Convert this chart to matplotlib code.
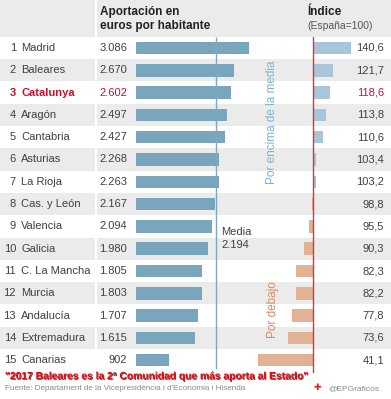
import matplotlib
matplotlib.use("Agg")
import matplotlib.pyplot as plt
import matplotlib.patheffects as pe

plt.rcParams['font.family'] = ['Liberation Sans', 'DejaVu Sans']

# data
regiones = ["Madrid", "Baleares", "Catalunya", "Aragón", "Cantabria", "Asturias",
            "La Rioja", "Cas. y León", "Valencia", "Galicia", "C. La Mancha",
            "Murcia", "Andalucía", "Extremadura", "Canarias"]
aportacion = [3086, 2670, 2602, 2497, 2427, 2268, 2263, 2167, 2094, 1980,
              1805, 1803, 1707, 1615, 902]
indice = [140.6, 121.7, 118.6, 113.8, 110.6, 103.4, 103.2, 98.8, 95.5, 90.3,
          82.3, 82.2, 77.8, 73.6, 41.1]
media = 2194
destacada = "Catalunya"

W, H = 391, 399
TXT = "#404040"
GRIS = "#ebebeb"
ROJO = "#c8102e"
FS = 8

fig = plt.figure(figsize=(W / 100, H / 100), dpi=100)

# background / table axes: x in pixels, y in row index
n = len(regiones)
pitch = 22.3
top_i = 1 - 48 / pitch
bot_i = 1 + (H - 48) / pitch
ax = fig.add_axes([0, 0, 1, 1])
ax.set_xlim(0, W)
ax.set_ylim(bot_i, top_i)
ax.axis("off")
ax.axhspan(top_i, 0.5, color=GRIS, lw=0)
for i in range(1, n + 1):
    if i % 2 == 0:
        ax.axhspan(i - 0.5, i + 0.5, color=GRIS, lw=0)
ax.vlines(96, top_i, n + 0.5, color="white", lw=1.5)

ax.text(100, 12 / pitch + top_i, "Aportación en", fontsize=8.5, weight="bold",
        color="#222222", va="center")
ax.text(100, 26 / pitch + top_i, "euros por habitante", fontsize=8.5, weight="bold",
        color="#222222", va="center")
ax.text(307, 12 / pitch + top_i, "Índice", fontsize=8.5, weight="bold",
        color="#222222", va="center")
ax.text(307, 26 / pitch + top_i, "(España=100)", fontsize=7.5,
        color="#555555", va="center")

for k, (reg, ap, ix) in enumerate(zip(regiones, aportacion, indice)):
    y = k + 1
    hl = reg == destacada
    col = ROJO if hl else TXT
    w = "bold" if hl else "normal"
    ax.text(16, y, str(y), ha="right", va="center", fontsize=FS, color=col, weight=w)
    ax.text(21, y, reg, ha="left", va="center", fontsize=FS, color=col, weight=w)
    ax.text(127, y, f"{ap:,}".replace(",", "."), ha="right", va="center",
            fontsize=FS, color=col)
    ax.text(384, y, f"{ix:.1f}".replace(".", ","), ha="right", va="center",
            fontsize=FS, color=col)

# aportacion bars
px_per_eur = 112.7 / 3086
rows_bottom = (H - (n + 0.5 - top_i) * pitch) / H
rows_h = n * pitch / H
ax1 = fig.add_axes([136 / W, rows_bottom, 164 / W, rows_h])
ax1.set_xlim(0, 164 / px_per_eur)
ax1.set_ylim(n + 0.5, 0.5)
ax1.axis("off")
ax1.barh(range(1, n + 1), aportacion, height=0.56, color="#79a5bd", lw=0)
ax1.vlines(media, 0.5, n + 0.4, color="#7ea8c2", lw=1)
ax1.text(media + 150, 9.55, "Media\n" + f"{media:,}".replace(",", "."),
         fontsize=FS, color=TXT, va="center", linespacing=1.3)

# indice bars
px_per_pt = 38 / 40.6
ax2 = fig.add_axes([250 / W, rows_bottom - 2 / H, 110 / W, rows_h + 2 / H])
ax2.set_xlim(100 - 63 / px_per_pt, 100 + 47 / px_per_pt)
ax2.set_ylim(n + 0.5 + 2 / pitch, 0.5)
ax2.axis("off")
cols = ["#a9c5da" if v >= 100 else "#e2b295" for v in indice]
ax2.barh(range(1, n + 1), [v - 100 for v in indice], left=100, height=0.56,
         color=cols, lw=0)
ax2.axvline(100, color="#d8343c", lw=1)

ax.text(272, 1 + (122 - 48) / pitch, "Por encima de la media", rotation=90,
        ha="center", va="center", fontsize=8.5, color="#7db2d2")
ax.text(273, 1 + (310 - 48) / pitch, "Por debajo", rotation=90,
        ha="center", va="center", fontsize=8.5, color="#d9895f")

# footer
fig.text(5 / W, 1 - 376 / H,
         "\"2017 Baleares es la 2ª Comunidad que más aporta al Estado\"",
         fontsize=7.4, weight="bold", color="#e0101c", va="center",
         path_effects=[pe.withSimplePatchShadow(offset=(0.6, -0.6),
                                                shadow_rgbFace="#5a0a0a",
                                                alpha=0.8)])
fig.text(5 / W, 1 - 389 / H,
         "Fuente: Departament de la Vicepresidència i d'Economia i Hisenda",
         fontsize=5.9, color="#8a8a8a", va="center")
fig.text(328 / W, 1 - 389 / H, "@EPGraficos", fontsize=6, color="#8a8a8a",
         va="center")
fig.text(317 / W, 1 - 388 / H, "✚", fontsize=6.5, color="#d8232a", va="center",
         ha="center", weight="bold")

fig.savefig("out.png", dpi=100)
